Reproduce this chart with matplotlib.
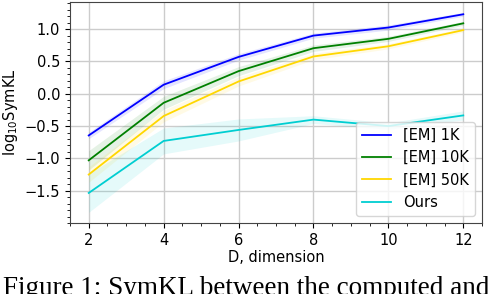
import numpy as np
import matplotlib.pyplot as plt

dims = [2, 4, 6, 8, 10, 12]

em_1k = [-0.645, 0.14, 0.57, 0.90, 1.025, 1.23]
em_1k_std = [0.05, 0.06, 0.05, 0.04, 0.04, 0.03]
em_10k = [-1.03, -0.14, 0.35, 0.705, 0.85, 1.09]
em_10k_std = [0.15, 0.1, 0.07, 0.05, 0.04, 0.03]
em_50k = [-1.25, -0.345, 0.19, 0.577, 0.735, 0.985]
em_50k_std = [0.12, 0.09, 0.07, 0.05, 0.04, 0.03]
ours = [-1.535, -0.73, -0.56, -0.40, -0.50, -0.335]
ours_std = [0.3, 0.2, 0.17, 0.06, 0.05, 0.07]

labels = ['[EM] 1K', '[EM] 10K', '[EM] 50K', 'Ours']
colors = ['blue', 'green', 'gold', 'darkturquoise']

plt.rcParams['font.size'] = 10.5

fig = plt.figure(figsize=(4.92, 2.94), dpi=100)
ax = fig.add_axes([70 / 492, 1 - 223 / 294, 412 / 492, 221 / 294])

series = [(em_1k, em_1k_std), (em_10k, em_10k_std), (em_50k, em_50k_std), (ours, ours_std)]
x = np.array(dims)
for (m, s), lab, c in zip(series, labels, colors):
    m = np.array(m)
    s = np.array(s)
    ax.fill_between(x, m - s, m + s, color=c, alpha=0.1, lw=0)
    ax.plot(x, m, color=c, lw=1.3, label=lab)

ax.set_xlim(1.5, 12.5)
ax.set_ylim(-2.0, 1.42)
ax.set_xticks(dims)
ax.set_yticks([-1.5, -1.0, -0.5, 0.0, 0.5, 1.0])
ax.minorticks_on()
ax.grid(True, which='major', color='#cccccc', lw=1)
ax.set_axisbelow(True)
for sp in ax.spines.values():
    sp.set_color('#444444')
ax.set_xlabel('D, dimension', labelpad=2)
ax.set_ylabel('log$_{10}$SymKL', labelpad=3)
ax.legend(loc='lower right', handlelength=2.0, borderaxespad=0.5)

fig.text(0.006, -0.005, 'Figure 1: SymKL between the computed and',
         family='Liberation Serif', fontsize=19.5, va='baseline', ha='left')

fig.savefig('out.png', dpi=100)
